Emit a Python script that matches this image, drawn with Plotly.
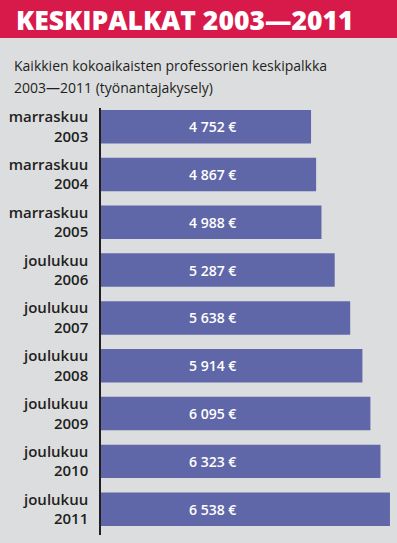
import plotly.graph_objects as go

W, H = 397, 543

months = ["marraskuu", "marraskuu", "marraskuu", "joulukuu", "joulukuu",
          "joulukuu", "joulukuu", "joulukuu", "joulukuu"]
years = ["2003", "2004", "2005", "2006", "2007", "2008", "2009", "2010", "2011"]
salaries = [4752, 4867, 4988, 5287, 5638, 5914, 6095, 6323, 6538]

title_text = "KESKIPALKAT 2003—2011"
subtitle_lines = ["Kaikkien kokoaikaisten professorien keskipalkka",
                  "2003—2011 (työnantajakysely)"]

RED = "#d81a4a"
GREY = "#dcdddf"
BAR = "#6067a8"
DARK = "#231f20"
FONT = "Open Sans"

cats = list(range(len(years)))
ticktext = [f"{m}<br>{y}" for m, y in zip(months, years)]

def fmt(v):
    return f"{v:,}".replace(",", " ") + " €"

fig = go.Figure()
fig.add_trace(go.Bar(
    x=salaries, y=cats, orientation="h",
    marker=dict(color=BAR, line=dict(width=0)),
    width=0.70, hoverinfo="skip",
))

px0 = 101
fig.update_layout(
    width=W, height=H,
    margin=dict(l=0, r=0, t=0, b=0, autoexpand=False),
    paper_bgcolor=GREY, plot_bgcolor=GREY,
    showlegend=False,
    xaxis=dict(domain=[px0 / W, 1], range=[0, 296 / 0.0442],
               visible=False, fixedrange=True),
    yaxis=dict(domain=[8 / H, 1 - 108 / H], range=[8.54, -0.39],
               tickmode="array", tickvals=cats, ticktext=ticktext,
               showline=True, linecolor=DARK, linewidth=1.5,
               showgrid=False, zeroline=False, ticks="",
               ticklabelstandoff=8,
               tickfont=dict(family=FONT, size=15, color=DARK, weight=600)),
    shapes=[dict(type="rect", xref="paper", yref="paper",
                 x0=0, x1=1, y0=1 - 38 / H, y1=1,
                 fillcolor=RED, line=dict(width=0), layer="below")],
)

fig.add_annotation(text=title_text, xref="paper", yref="paper",
                   x=14 / W, y=1 - 20 / H, xanchor="left", yanchor="middle",
                   showarrow=False,
                   font=dict(family=FONT, size=26.5, color="white", weight=800))
for line, ypx in zip(subtitle_lines, [65, 87]):
    fig.add_annotation(text=line, xref="paper", yref="paper",
                       x=12 / W, y=1 - ypx / H, xanchor="left", yanchor="middle",
                       align="left", showarrow=False,
                       font=dict(family=FONT, size=14, color=DARK))

for c, v in zip(cats, salaries):
    fig.add_annotation(text=fmt(v), xref="paper", yref="y",
                       x=187 / W, y=c, xanchor="left", yanchor="middle",
                       showarrow=False,
                       font=dict(family=FONT, size=14, color="white", weight=600))

fig.write_html("out.html", config={"displayModeBar": False},
               post_script="document.body.style.margin='0';"
                           "document.body.style.overflow='hidden';")
